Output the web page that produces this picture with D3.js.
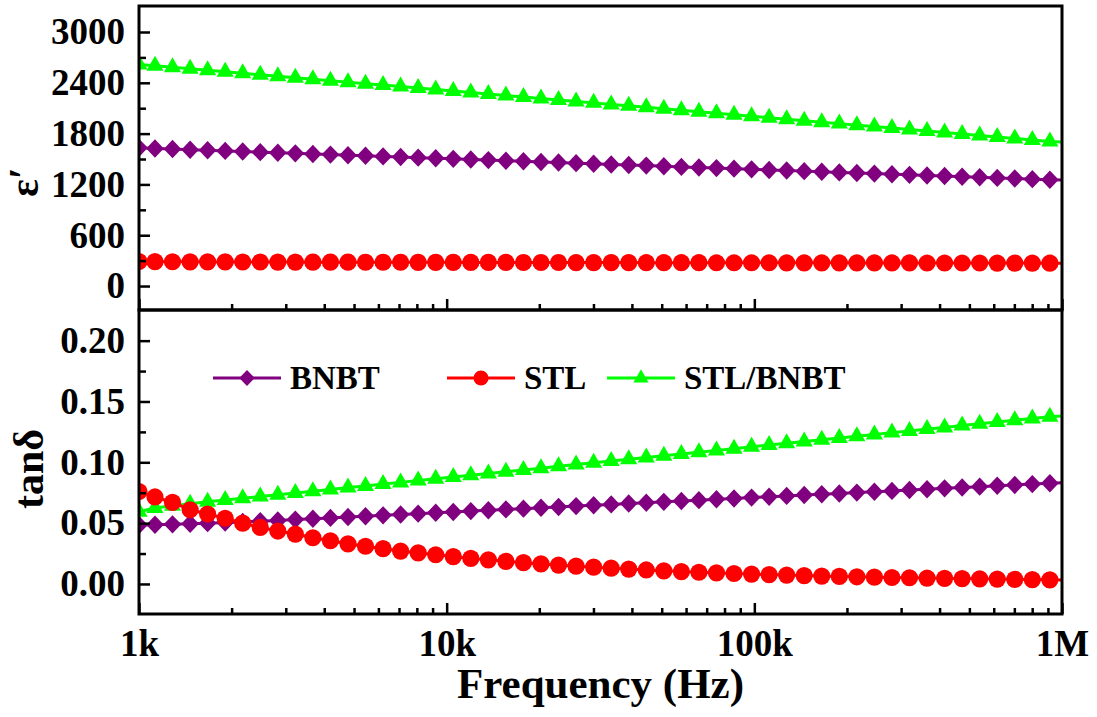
<!DOCTYPE html>
<html lang="en">
<head>
<meta charset="utf-8">
<title>Dielectric constant and loss vs frequency</title>
<script src="https://d3js.org/d3.v7.min.js"></script>
<style>
  body, html { margin: 0; background: #fff; }
  svg { display: block; }
  text { font-family: "Times New Roman", "Liberation Serif", serif; font-weight: bold; fill: #000; }
</style>
</head>
<body>
<svg width="1097" height="717"></svg>
<script>
// frequencies (Hz) of the measured points
var freqs = [1000, 1127, 1285, 1466, 1671, 1906, 2173, 2478, 2826, 3222,
  3674, 4190, 4778, 5448, 6213, 7085, 8079, 9213, 10506, 11980,
  13662, 15579, 17765, 20258, 23101, 26343, 30040, 34256, 39063, 44545,
  50797, 57926, 66055, 75325, 85896, 97951, 111697, 127372, 145248, 165632,
  188876, 215383, 245609, 280078, 319383, 364204, 415316, 473600, 540064, 615853,
  702280, 800836, 913224, 1000000];

// dielectric constant
var epsBNBT = [1632, 1625, 1618, 1610, 1603, 1596, 1589, 1581, 1574, 1567,
  1560, 1552, 1545, 1538, 1531, 1523, 1516, 1509, 1502, 1494,
  1487, 1480, 1473, 1465, 1458, 1451, 1444, 1436, 1429, 1422,
  1415, 1407, 1400, 1393, 1386, 1378, 1371, 1364, 1357, 1349,
  1342, 1335, 1328, 1320, 1313, 1306, 1299, 1291, 1284, 1277,
  1270, 1262, 1255, 1252];
var epsSTL = [290, 288, 287, 286, 285, 285, 284, 284, 283, 283,
  282, 282, 282, 281, 281, 281, 280, 280, 280, 279,
  279, 279, 278, 278, 278, 277, 277, 277, 277, 276,
  276, 276, 276, 275, 275, 275, 275, 274, 274, 274,
  274, 273, 273, 273, 273, 272, 272, 272, 272, 271,
  271, 271, 270, 270];
var epsSTLBNBT = [2615, 2600, 2583, 2565, 2548, 2530, 2513, 2495, 2478, 2460,
  2443, 2425, 2408, 2390, 2373, 2355, 2338, 2320, 2303, 2285,
  2268, 2250, 2233, 2215, 2198, 2180, 2163, 2145, 2128, 2110,
  2093, 2075, 2058, 2040, 2023, 2005, 1988, 1970, 1953, 1935,
  1918, 1900, 1883, 1865, 1848, 1830, 1813, 1795, 1778, 1760,
  1743, 1725, 1708, 1700];

// loss tangent
var tanBNBT = [0.0485, 0.0487, 0.049, 0.0495, 0.05, 0.0505, 0.051, 0.0516, 0.0522, 0.0529,
  0.0536, 0.0543, 0.055, 0.0557, 0.0564, 0.0571, 0.0578, 0.0585, 0.0592, 0.0599,
  0.0606, 0.0613, 0.0619, 0.0626, 0.0633, 0.064, 0.0647, 0.0654, 0.0661, 0.0668,
  0.0675, 0.0682, 0.0689, 0.0696, 0.0703, 0.071, 0.0717, 0.0724, 0.0731, 0.0737,
  0.0744, 0.0751, 0.0758, 0.0765, 0.0772, 0.0779, 0.0786, 0.0793, 0.08, 0.0807,
  0.0814, 0.0821, 0.0828, 0.0832];
var tanSTL = [0.076, 0.0715, 0.067, 0.061, 0.0575, 0.054, 0.050, 0.0465, 0.0435, 0.041,
  0.038, 0.0355, 0.033, 0.031, 0.029, 0.027, 0.0255, 0.024, 0.0225, 0.021,
  0.0198, 0.0186, 0.0175, 0.0165, 0.0155, 0.0146, 0.0138, 0.013, 0.0122, 0.0115,
  0.0108, 0.0102, 0.0096, 0.0091, 0.0086, 0.0081, 0.0077, 0.0073, 0.0069, 0.0065,
  0.0062, 0.0059, 0.0056, 0.0053, 0.0051, 0.0048, 0.0046, 0.0044, 0.0042, 0.004,
  0.0038, 0.0036, 0.0034, 0.0033];
var tanSTLBNBT = [0.0594, 0.0625, 0.0643, 0.066, 0.0675, 0.069, 0.0704, 0.0719, 0.0733, 0.0748,
  0.0762, 0.0777, 0.0792, 0.0806, 0.0821, 0.0835, 0.085, 0.0864, 0.0879, 0.0894,
  0.0908, 0.0923, 0.0937, 0.0952, 0.0967, 0.0981, 0.0996, 0.101, 0.1025, 0.1039,
  0.1054, 0.1069, 0.1083, 0.1098, 0.1112, 0.1127, 0.1142, 0.1156, 0.1171, 0.1185,
  0.12, 0.1214, 0.1229, 0.1244, 0.1258, 0.1273, 0.1287, 0.1302, 0.1317, 0.1331,
  0.1346, 0.136, 0.1375, 0.138];

var seriesNames = ["BNBT", "STL", "STL/BNBT"];
var seriesColors = ["#800080", "#ff0000", "#00ff00"];
var seriesSymbols = ["diamond", "circle", "triangle"];

var xTickValues = [1e3, 1e4, 1e5, 1e6];
var xTickLabels = ["1k", "10k", "100k", "1M"];
var epsTicks = [0, 600, 1200, 1800, 2400, 3000];
var epsMinor = [300, 900, 1500, 2100, 2700];
var tanTicks = [0, 0.05, 0.10, 0.15, 0.20];
var tanMinor = [0.025, 0.075, 0.125, 0.175];

//Layout
var left = 139, right = 1062;
var topA = 6, midY = 310, botB = 614;

var svg = d3.select("svg");

var x = d3.scaleLog().domain([1e3, 1e6]).range([left, right]);
var yEps = d3.scaleLinear().domain([-283, 3307]).range([midY, topA]);
var yTan = d3.scaleLinear().domain([-0.0247, 0.2252]).range([botB, midY]);

var defs = svg.append("defs");
defs.append("clipPath").attr("id", "clipA")
  .append("rect").attr("x", left).attr("y", topA).attr("width", right - left).attr("height", midY - topA);
defs.append("clipPath").attr("id", "clipB")
  .append("rect").attr("x", left).attr("y", midY).attr("width", right - left).attr("height", botB - midY);

function symbolPath(kind, s) {
  s = s || 1;
  if (kind == "diamond") {
    var w = 8.8 * s, h = 9.2 * s;
    return "M0," + (-h) + "L" + w + ",0L0," + h + "L" + (-w) + ",0Z";
  }
  if (kind == "triangle") {
    var hw = 8.6 * s, th = 15 * s;
    return "M0," + (-th * 2 / 3) + "L" + hw + "," + (th / 3) + "L" + (-hw) + "," + (th / 3) + "Z";
  }
  var r = 8.6 * s;
  return "M" + r + ",0A" + r + "," + r + " 0 1,1 " + (-r) + ",0A" + r + "," + r + " 0 1,1 " + r + ",0Z";
}

function drawPanel(yScale, clipId, seriesList) {
  var g = svg.append("g").attr("clip-path", "url(#" + clipId + ")");
  // draw order: BNBT, STL/BNBT, STL on top
  [0, 2, 1].forEach(function(i) {
    var pts = freqs.map(function(f, j) { return { f: f, v: seriesList[i][j] }; });
    var line = d3.line().x(function(d) { return x(d.f); }).y(function(d) { return yScale(d.v); });
    g.append("path").datum(pts)
      .attr("d", line)
      .attr("fill", "none")
      .attr("stroke", seriesColors[i])
      .attr("stroke-width", 3);
    // last point (1M) carries no marker
    g.selectAll(null).data(pts.filter(function(d) { return d.f < 1e6; }))
      .enter().append("path")
      .attr("d", symbolPath(seriesSymbols[i]))
      .attr("transform", function(d) { return "translate(" + x(d.f) + "," + yScale(d.v) + ")"; })
      .attr("fill", seriesColors[i]);
  });
}

drawPanel(yEps, "clipA", [epsBNBT, epsSTL, epsSTLBNBT]);
drawPanel(yTan, "clipB", [tanBNBT, tanSTL, tanSTLBNBT]);

// y axes
function yAxes(scale, major, minor, fmt) {
  var ga = svg.append("g").attr("transform", "translate(" + left + ",0)")
    .call(d3.axisLeft(scale).tickValues(major).tickSize(-11).tickPadding(14).tickFormat(fmt));
  ga.select(".domain").remove();
  ga.selectAll("line").attr("stroke-width", 2.5);
  ga.selectAll("text").style("font-size", "37px");
  var gm = svg.append("g").attr("transform", "translate(" + left + ",0)")
    .call(d3.axisLeft(scale).tickValues(minor).tickSize(-7).tickFormat(""));
  gm.select(".domain").remove();
  gm.selectAll("line").attr("stroke-width", 2.5);
}
yAxes(yEps, epsTicks, epsMinor, d3.format("d"));
yAxes(yTan, tanTicks, tanMinor, d3.format(".2f"));

// x axes (ticks point inward on both panels' bottoms)
var minorX = x.ticks().filter(function(t) { return xTickValues.indexOf(t) < 0; });
[midY, botB].forEach(function(yy, k) {
  var ga = svg.append("g").attr("transform", "translate(0," + yy + ")")
    .call(d3.axisBottom(x).tickValues(xTickValues).tickSize(-11).tickPadding(16)
      .tickFormat(function(d, i) { return k == 1 ? xTickLabels[i] : ""; }));
  ga.select(".domain").remove();
  ga.selectAll("line").attr("stroke-width", 2.5);
  ga.selectAll("text").style("font-size", "37px");
  var gm = svg.append("g").attr("transform", "translate(0," + yy + ")")
    .call(d3.axisBottom(x).tickValues(minorX).tickSize(-6).tickFormat(""));
  gm.select(".domain").remove();
  gm.selectAll("line").attr("stroke-width", 2.5);
});

// frames
svg.append("rect").attr("x", left).attr("y", topA).attr("width", right - left).attr("height", midY - topA)
  .attr("fill", "none").attr("stroke", "#000").attr("stroke-width", 3);
svg.append("rect").attr("x", left).attr("y", midY).attr("width", right - left).attr("height", botB - midY)
  .attr("fill", "none").attr("stroke", "#000").attr("stroke-width", 3);

// axis titles
svg.append("text").attr("transform", "translate(38,182) rotate(-90)")
  .attr("text-anchor", "middle").style("font-size", "42px").text("ε′");
svg.append("text").attr("transform", "translate(43,469) rotate(-90)")
  .attr("text-anchor", "middle").style("font-size", "42px").text("tanδ");
svg.append("text").attr("x", (left + right) / 2).attr("y", 698)
  .attr("text-anchor", "middle").style("font-size", "43px").text("Frequency (Hz)");

// legend
var legendX = [213, 447, 607];
var legendY = 378;
seriesNames.forEach(function(name, i) {
  var lg = svg.append("g").attr("transform", "translate(" + legendX[i] + "," + legendY + ")");
  lg.append("line").attr("x1", 0).attr("x2", 68).attr("y1", 0).attr("y2", 0)
    .attr("stroke", seriesColors[i]).attr("stroke-width", 3);
  lg.append("path").attr("d", symbolPath(seriesSymbols[i], 0.88))
    .attr("transform", "translate(34,0)").attr("fill", seriesColors[i]);
  lg.append("text").attr("x", 77).attr("y", 11).style("font-size", "33px").text(name);
});
</script>
</body>
</html>
